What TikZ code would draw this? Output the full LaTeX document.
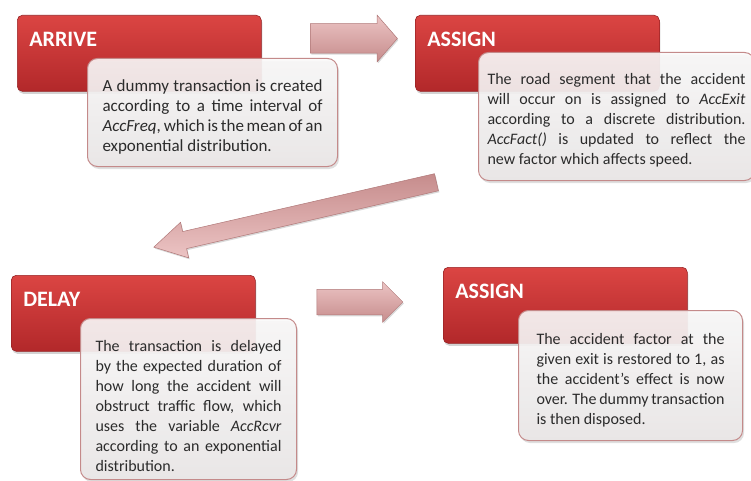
\documentclass[tikz,border=0pt]{standalone}
\usepackage{fontspec}
\setmainfont{Carlito}
\usetikzlibrary{shapes.arrows,shadows}
\definecolor{boxtop}{HTML}{DB4543}
\definecolor{boxbot}{HTML}{B2282A}
\definecolor{notetop}{HTML}{FAF9F9}
\definecolor{notebot}{HTML}{EAE7E7}
\definecolor{noteedge}{HTML}{C48A8A}
\definecolor{notetext}{HTML}{2B2B2B}
\definecolor{arrowtop}{HTML}{ECC4C4}
\definecolor{arrowbot}{HTML}{C68C8C}
\definecolor{arrowedge}{HTML}{B07878}
\begin{document}
\begin{tikzpicture}[x=1pt,y=-1pt,every node/.style={font=\fontsize{16}{20}\selectfont},
  blockhead/.style={anchor=north west,rounded corners=5pt,top color=boxtop,bottom color=boxbot,draw=boxbot!85!black,line width=0.6pt,drop shadow={opacity=0.35,shadow xshift=1pt,shadow yshift=-2.5pt},text=white,font=\bfseries\fontsize{22}{26}\selectfont,align=left,text width=220pt,inner xsep=12pt,inner ysep=0pt,text height=31pt,text depth=45pt},
  blocknote/.style={anchor=north west,rounded corners=10pt,top color=notetop,bottom color=notebot,fill opacity=0.9,text opacity=1,draw=noteedge,line width=1pt,drop shadow={opacity=0.25,shadow xshift=1.5pt,shadow yshift=-2.5pt},text=notetext,align=justify,inner ysep=0pt,text height=33pt},
  flowarrow/.style={single arrow,draw=arrowedge,line width=0.5pt,top color=arrowtop,bottom color=arrowbot,inner xsep=0pt,drop shadow={opacity=0.3,shadow xshift=1pt,shadow yshift=-1.5pt}}]
  \useasboundingbox (0,0) rectangle (751,481);
  \node[blockhead] (arrive) at (17,15) {ARRIVE};
  \node[blocknote,text width=220pt,inner xsep=15pt,text depth=75pt,font=\fontsize{17}{20}\selectfont] (arrivenote) at (87,58) {A dummy transaction is created\linebreak according to a time interval of\linebreak \textit{AccFreq}, which is the mean of an\linebreak exponential distribution.};
  \node[blockhead] (assign) at (415,15) {ASSIGN};
  \node[blocknote,text width=258pt,inner xsep=9pt,text height=32pt,text depth=96pt] (assignnote) at (478,52) {The road segment that the accident\linebreak will occur on is assigned to \textit{AccExit}\linebreak according to a discrete distribution.\linebreak \textit{AccFact()} is updated to reflect the\linebreak new factor which affects speed.};
  \node[blockhead] (delay) at (11,275) {DELAY};
  \node[blocknote,text width=186pt,inner xsep=15pt,text depth=128pt] (delaynote) at (80,318) {The transaction is delayed\linebreak by the expected duration of\linebreak how long the accident will\linebreak obstruct traffic flow, which\linebreak uses the variable \textit{AccRcvr}\linebreak according to an exponential\linebreak distribution.};
  \node[blockhead] (dispose) at (443,267) {ASSIGN};
  \node[blocknote,text width=188pt,inner xsep=18pt,text height=34pt,text depth=96pt] (disposenote) at (518,310) {The accident factor at the\linebreak given exit is restored to 1, as\linebreak the accident’s effect is now\linebreak over. The dummy transaction\linebreak is then disposed.};
  \coordinate (a1s) at (304,38.5);
  \coordinate (a1e) at (391,38.5);
  \coordinate (a2s) at (444,180.5);
  \coordinate (a2e) at (161,245.5);
  \coordinate (a3s) at (310.5,302);
  \coordinate (a3e) at (396.5,302);
  \path (a1s) -- node[flowarrow,sloped,minimum height=87pt,inner ysep=14.5pt,single arrow head extend=8.5pt,single arrow tip angle=98] (arrow1) {} (a1e);
  \path (a2s) -- node[flowarrow,sloped,allow upside down,top color=arrowbot,bottom color=arrowtop,minimum height=290pt,inner ysep=8.5pt,single arrow head extend=9.5pt,single arrow tip angle=60] (arrow2) {} (a2e);
  \path (a3s) -- node[flowarrow,sloped,minimum height=86pt,inner ysep=12.5pt,single arrow head extend=7.5pt,single arrow tip angle=90] (arrow3) {} (a3e);
\end{tikzpicture}
\end{document}
